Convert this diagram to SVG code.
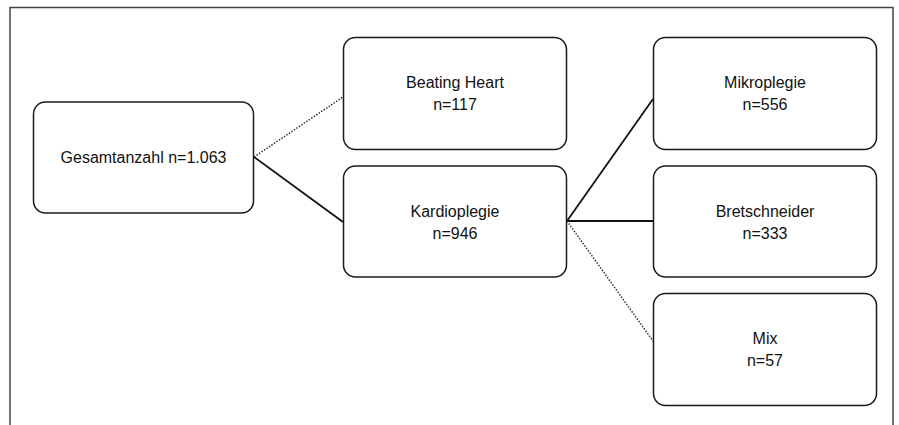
<svg xmlns="http://www.w3.org/2000/svg" width="899" height="425" viewBox="0 0 899 425">
<style>
.box{fill:#fff;stroke:#1a1a1a;stroke-width:1.5}
.lbl{font-family:"Liberation Sans",Arial,sans-serif;font-size:16px;fill:#111;text-anchor:middle}
.solid{stroke:#111;stroke-width:1.8;fill:none}
.dot{stroke:#333;stroke-width:1.5;fill:none;stroke-dasharray:1.5 1.5}
</style>
<rect x="0" y="0" width="899" height="425" fill="#fff"/>
<path d="M10 430 V7.5 H893 V430" fill="none" stroke="#444" stroke-width="1.5"/>
<g id="connectors">
<line class="dot" x1="254" y1="157" x2="343" y2="97"/>
<line class="solid" x1="254" y1="157" x2="343" y2="222"/>
<line class="solid" x1="567" y1="221" x2="653" y2="99"/>
<line class="solid" x1="567" y1="221" x2="653" y2="221"/>
<line class="dot" x1="567" y1="221" x2="653" y2="341"/>
</g>
<g id="n-gesamt">
<rect class="box" x="33.5" y="102" width="220" height="111" rx="12"/>
<text class="lbl" x="143.5" y="163">Gesamtanzahl n=1.063</text>
</g>
<g id="n-beating">
<rect class="box" x="343.5" y="37.5" width="223" height="112" rx="12"/>
<text class="lbl" x="455" y="88">Beating Heart</text>
<text class="lbl" x="455" y="110">n=117</text>
</g>
<g id="n-kardio">
<rect class="box" x="343.5" y="166" width="223" height="111" rx="12"/>
<text class="lbl" x="455" y="217">Kardioplegie</text>
<text class="lbl" x="455" y="239">n=946</text>
</g>
<g id="n-mikro">
<rect class="box" x="653.5" y="37.5" width="223" height="112" rx="12"/>
<text class="lbl" x="765" y="88">Mikroplegie</text>
<text class="lbl" x="765" y="110">n=556</text>
</g>
<g id="n-bretsch">
<rect class="box" x="653.5" y="166" width="223" height="111" rx="12"/>
<text class="lbl" x="765" y="217">Bretschneider</text>
<text class="lbl" x="765" y="239">n=333</text>
</g>
<g id="n-mix">
<rect class="box" x="653.5" y="293.5" width="223" height="112" rx="12"/>
<text class="lbl" x="765" y="344">Mix</text>
<text class="lbl" x="765" y="366">n=57</text>
</g>
</svg>
